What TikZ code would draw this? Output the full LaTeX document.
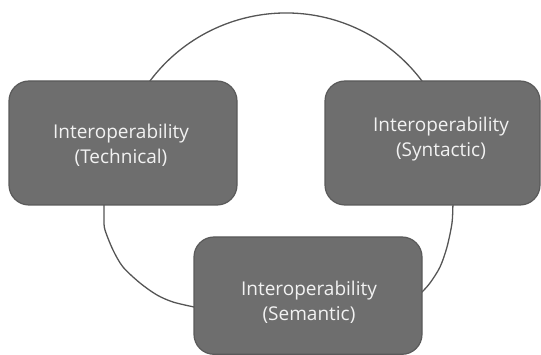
\documentclass[tikz,border=0pt]{standalone}
\usepackage{fontspec}
\setmainfont{Open Sans}
\definecolor{boxfill}{HTML}{6E6E6E}
\definecolor{boxline}{HTML}{5A5A5A}
\definecolor{ringline}{HTML}{555555}
\definecolor{txt}{HTML}{F2F2F2}
\begin{document}
\begin{tikzpicture}[x=1pt,y=-1pt,
  ibox/.style={draw=boxline, line width=1.2pt, fill=boxfill, rounded corners=20pt},
  itext/.style={text=txt, font=\fontsize{19}{25}\selectfont, align=center, inner sep=0pt},
  ring/.style={draw=ringline, line width=1.3pt}]
\useasboundingbox (0,0) rectangle (541,355);
% ring segments (drawn beneath the boxes)
\coordinate (ringc) at (286,183);
\draw[ring] (ringc) ++(210:170) arc[start angle=210, end angle=330, radius=170];
\draw[ring] plot[smooth] coordinates {(454,185) (453,203) (452,223) (447,247) (440,267) (430,283) (421,293) (412,301)};
\draw[ring] plot[smooth] coordinates {(104,185) (104,205) (104,220) (105,230) (113,250) (123,267) (140,283) (157,295) (173,302) (194,307) (205,309)};
% boxes
\draw[ibox] (9,81) rectangle (237,205);
\draw[ibox] (325,81) rectangle (540,205);
\draw[ibox] (194,237) rectangle (422,354.3);
% labels
\node[itext] (tech) at (121,145) {Interoperability\\(Technical)};
\node[itext] (syn) at (441,139) {Interoperability\\(Syntactic)};
\node[itext] (sem) at (309,302) {Interoperability\\(Semantic)};
\end{tikzpicture}
\end{document}
